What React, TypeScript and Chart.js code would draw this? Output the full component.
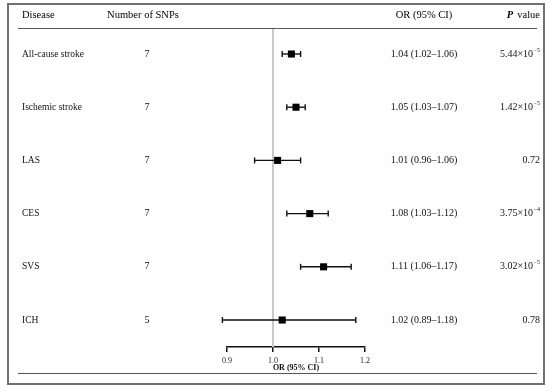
import React, { useEffect, useRef } from "react";
import { Chart, registerables } from "chart.js";

Chart.register(...registerables);

const diseases = ["All-cause stroke", "Ischemic stroke", "LAS", "CES", "SVS", "ICH"];
const snpCounts = [7, 7, 7, 7, 7, 5];
const orValues = [1.04, 1.05, 1.01, 1.08, 1.11, 1.02];
const ciLower = [1.02, 1.03, 0.96, 1.03, 1.06, 0.89];
const ciUpper = [1.06, 1.07, 1.06, 1.12, 1.17, 1.18];
const orLabels = [
  "1.04 (1.02\u20131.06)",
  "1.05 (1.03\u20131.07)",
  "1.01 (0.96\u20131.06)",
  "1.08 (1.03\u20131.12)",
  "1.11 (1.06\u20131.17)",
  "1.02 (0.89\u20131.18)",
];
const pValues = ["5.44×10⁻⁵", "1.42×10⁻⁵", "0.72", "3.75×10⁻⁴", "3.02×10⁻⁵", "0.78"];
const xTicks = [0.9, 1.0, 1.1, 1.2];
const headers = ["Disease", "Number of SNPs", "OR (95% CI)", "P", "value"];
const axisTitle = "OR (95% CI)";
const nullValue = 1.0;

const FONT = '"Liberation Serif", "Times New Roman", serif';
const Y_MIN = -0.47;
const Y_MAX = 5.507;

const supMap: Record<string, string> = {
  "⁻": "\u2212", "⁰": "0", "¹": "1", "²": "2", "³": "3", "⁴": "4",
  "⁵": "5", "⁶": "6", "⁷": "7", "⁸": "8", "⁹": "9",
};

const textPlugin = {
  id: "forestText",
  afterDraw(chart: any) {
    const ctx = chart.ctx as CanvasRenderingContext2D;
    const yScale = chart.scales.y;
    ctx.save();
    // frame
    ctx.strokeStyle = "#707070";
    ctx.lineWidth = 2;
    ctx.strokeRect(8, 4, 536, 380);
    // header rule lines
    ctx.strokeStyle = "#555";
    ctx.lineWidth = 1;
    ctx.beginPath();
    ctx.moveTo(18, 28.5);
    ctx.lineTo(537, 28.5);
    ctx.moveTo(18, 373.5);
    ctx.lineTo(537, 373.5);
    ctx.stroke();

    ctx.fillStyle = "#000";
    ctx.textBaseline = "middle";
    // headers
    const hy = 15;
    ctx.font = `10.5px ${FONT}`;
    ctx.textAlign = "left";
    ctx.fillText(headers[0], 22, hy);
    ctx.textAlign = "center";
    ctx.fillText(headers[1], 143, hy);
    ctx.fillText(headers[2], 424, hy);
    ctx.textAlign = "right";
    ctx.fillText(headers[4], 540, hy);
    const vw = ctx.measureText(headers[4]).width;
    ctx.font = `italic bold 10.5px ${FONT}`;
    ctx.fillText(headers[3], 540 - vw - 4, hy);

    // rows
    ctx.fillStyle = "#111";
    diseases.forEach((d, i) => {
      const y = yScale.getPixelForValue(i);
      ctx.font = `9.5px ${FONT}`;
      ctx.textAlign = "left";
      ctx.fillText(d, 22, y);
      ctx.font = `10px ${FONT}`;
      ctx.textAlign = "center";
      ctx.fillText(String(snpCounts[i]), 147, y);
      ctx.fillText(orLabels[i], 424, y);
      // p value
      const p = pValues[i];
      const m = p.match(/^(.*?)([⁻⁰¹²³⁴⁵⁶⁷⁸⁹]+)$/);
      ctx.textAlign = "right";
      if (m) {
        const exp = m[2].split("").map((c) => supMap[c] || c).join("");
        ctx.font = `6px ${FONT}`;
        ctx.fillText(exp, 540, y - 4);
        const ew = ctx.measureText(exp).width;
        ctx.font = `10px ${FONT}`;
        ctx.fillText(m[1], 540 - ew - 0.5, y);
      } else {
        ctx.fillText(p, 540, y);
      }
    });
    ctx.restore();
  },
};

export default function App() {
  const ref = useRef<HTMLCanvasElement | null>(null);

  useEffect(() => {
    if (!ref.current) return;
    const ciSets = diseases.map((_, i) => ({
      type: "scatter" as const,
      data: [
        { x: ciLower[i], y: i },
        { x: ciUpper[i], y: i },
      ],
      showLine: true,
      borderColor: "#111",
      borderWidth: 1.4,
      pointStyle: "line" as const,
      pointRadius: 3,
      pointRotation: 90,
      pointBorderWidth: 1.4,
      pointBorderColor: "#111",
      pointBackgroundColor: "#111",
      clip: false as any,
      order: 2,
    }));
    const chart = new Chart(ref.current, {
      type: "scatter",
      data: {
        datasets: [
          {
            data: [
              { x: nullValue, y: Y_MIN },
              { x: nullValue, y: Y_MAX },
            ],
            showLine: true,
            borderColor: "#c8c8c8",
            borderWidth: 2,
            pointRadius: 0,
            order: 3,
          },
          ...ciSets,
          {
            data: orValues.map((v, i) => ({ x: v, y: i })),
            pointStyle: "rect",
            pointRadius: 5,
            backgroundColor: "#000",
            borderColor: "#000",
            borderWidth: 0,
            clip: false as any,
            order: 1,
          },
        ] as any,
      },
      options: {
        animation: false,
        responsive: false,
        devicePixelRatio: 1,
        events: [],
        layout: { padding: { left: 227, right: 190, top: 29, bottom: 12 } },
        plugins: { legend: { display: false }, tooltip: { enabled: false } },
        scales: {
          x: {
            type: "linear",
            min: xTicks[0],
            max: xTicks[xTicks.length - 1],
            afterBuildTicks: (s: any) => {
              s.ticks = xTicks.map((v) => ({ value: v }));
            },
            afterFit: (s: any) => {
              s.height = 32;
            },
            border: { display: true, color: "#111", width: 1.5 },
            grid: {
              display: true,
              drawOnChartArea: false,
              drawTicks: true,
              tickLength: 5,
              color: "#111",
              lineWidth: 1.5,
            },
            ticks: {
              font: { size: 8, family: FONT },
              color: "#222",
              padding: 4,
              maxRotation: 0,
              callback: (v: any) => Number(v).toFixed(1),
            },
            title: {
              display: true,
              text: axisTitle,
              font: { size: 8, family: FONT, weight: "bold" },
              color: "#111",
              padding: { top: 0, bottom: 6 },
            },
          },
          y: {
            type: "linear",
            display: false,
            reverse: true,
            min: Y_MIN,
            max: Y_MAX,
          },
        },
      },
      plugins: [textPlugin],
    });
    return () => chart.destroy();
  }, []);

  return (
    <div style={{ position: "absolute", left: 0, top: 0, width: 555, height: 391, background: "#fff" }}>
      <canvas ref={ref} width={555} height={391} style={{ width: 555, height: 391, display: "block" }} />
    </div>
  );
}
